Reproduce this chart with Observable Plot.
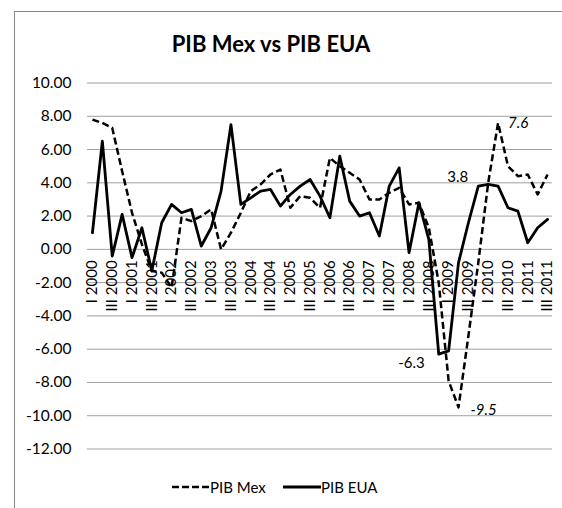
<!DOCTYPE html>
<html>
<head>
<meta charset="utf-8">
<script src="https://cdn.jsdelivr.net/npm/d3@7"></script>
<script src="https://cdn.jsdelivr.net/npm/@observablehq/plot@0.6"></script>
<style>
  body { margin: 0; background: #fff; font-family: Lato, sans-serif; }
  #wrap { position: relative; width: 562px; height: 508px; overflow: hidden; background: #fff; }
  #border { position: absolute; left: 14px; top: 11px; width: 700px; height: 700px; border: 1px solid #868686; box-sizing: border-box; }
  #chart { position: absolute; left: 0; top: 0; }
  #title { position: absolute; left: 0; top: 33px; width: 542px; text-align: center; font-weight: bold; font-size: 22px; line-height: 22px; color: #000; }
  .leg { position: absolute; top: 477px; height: 20px; display: flex; align-items: center; font-size: 15px; color: #000; }
  .leg svg { display: block; }
</style>
</head>
<body>
<div id="wrap">
  <div id="border"></div>
  <div id="chart"></div>
  <div id="title">PIB Mex vs PIB EUA</div>
  <div class="leg" style="left:172px"><svg width="38" height="20"><line x1="0" x2="38" y1="10" y2="10" stroke="#000" stroke-width="2.5" stroke-dasharray="7,3"/></svg><span>PIB Mex</span></div>
  <div class="leg" style="left:283px"><svg width="38" height="20"><line x1="0" x2="38" y1="10" y2="10" stroke="#000" stroke-width="2.8"/></svg><span>PIB EUA</span></div>
</div>
<script>
const quarters = [
  "I 2000","II 2000","III 2000","IV 2000",
  "I 2001","II 2001","III 2001","IV 2001",
  "I 2002","II 2002","III 2002","IV 2002",
  "I 2003","II 2003","III 2003","IV 2003",
  "I 2004","II 2004","III 2004","IV 2004",
  "I 2005","II 2005","III 2005","IV 2005",
  "I 2006","II 2006","III 2006","IV 2006",
  "I 2007","II 2007","III 2007","IV 2007",
  "I 2008","II 2008","III 2008","IV 2008",
  "I 2009","II 2009","III 2009","IV 2009",
  "I 2010","II 2010","III 2010","IV 2010",
  "I 2011","II 2011","III 2011"
];
const tickLabels = quarters.filter((q, i) => i % 2 === 0);
const mex = [7.8, 7.6, 7.3, 4.7, 2.2, 0.3, -1.3, -1.4, -2.3, 1.9, 1.7, 2.0,
             2.4, 0.0, 1.0, 2.2, 3.5, 3.9, 4.5, 4.8, 2.5, 3.2, 3.1, 2.5,
             5.5, 5.0, 4.6, 4.2, 3.0, 3.0, 3.4, 3.7, 2.7, 2.8, 1.3, -2.0,
             -7.9, -9.5, -5.2, -0.8, 4.0, 7.6, 5.0, 4.4, 4.5, 3.3, 4.5];
const eua = [1.0, 6.5, -0.4, 2.1, -0.5, 1.3, -1.3, 1.6, 2.7, 2.2, 2.4, 0.2,
             1.3, 3.5, 7.5, 2.7, 3.1, 3.5, 3.6, 2.6, 3.3, 3.8, 4.2, 3.2,
             1.9, 5.6, 2.9, 2.0, 2.2, 0.8, 3.8, 4.9, -0.2, 2.8, 0.6, -6.3,
             -6.1, -0.8, 1.6, 3.8, 3.9, 3.8, 2.5, 2.3, 0.4, 1.3, 1.8];
const yTicks = [-12, -10, -8, -6, -4, -2, 0, 2, 4, 6, 8, 10];

const rows = quarters.map((q, i) => ({q, mex: mex[i], eua: eua[i]}));
const fmt1 = v => v.toFixed(1);

const plot = Plot.plot({
  width: 562,
  height: 508,
  marginTop: 82.5,
  marginBottom: 59.5,
  marginLeft: 87,
  marginRight: 10,
  style: {fontFamily: "Lato, sans-serif", fontSize: "15px", color: "#000", background: "none", overflow: "visible"},
  x: {type: "point", domain: quarters, padding: 0.5, axis: null},
  y: {domain: [-12, 10], axis: null},
  marks: [
    Plot.ruleY(yTicks, {stroke: "#a0a0a0", strokeWidth: 1}),
    Plot.axisY(yTicks, {tickSize: 0, tickPadding: 16, tickFormat: d => d.toFixed(2), fontSize: 15.5, fill: "#000"}),
    Plot.text(tickLabels, {x: d => d, y: () => 0, text: d => d, rotate: -90, textAnchor: "end", dy: 11, fontSize: 15, fill: "#000"}),
    Plot.line(rows, {x: "q", y: "mex", stroke: "#000", strokeWidth: 2.5, strokeDasharray: "7,3.5", strokeLinecap: "butt"}),
    Plot.line(rows, {x: "q", y: "eua", stroke: "#000", strokeWidth: 2.8}),
    Plot.text([41], {x: i => quarters[i], y: i => mex[i], text: i => fmt1(mex[i]), textAnchor: "start", dx: 10, dy: 0, fontStyle: "italic", fontSize: 15, fill: "#000"}),
    Plot.text([37], {x: i => quarters[i], y: i => mex[i], text: i => fmt1(mex[i]), textAnchor: "start", dx: 12, dy: 3, fontStyle: "italic", fontSize: 15, fill: "#000"}),
    Plot.text([39], {x: i => quarters[i], y: i => eua[i], text: i => fmt1(eua[i]), textAnchor: "end", dx: -10, dy: -9, fontSize: 15, fill: "#000"}),
    Plot.text([35], {x: i => quarters[i], y: i => eua[i], text: i => fmt1(eua[i]), textAnchor: "end", dx: -14, dy: 9, fontSize: 15, fill: "#000"})
  ]
});
document.getElementById("chart").appendChild(plot);
</script>
</body>
</html>
